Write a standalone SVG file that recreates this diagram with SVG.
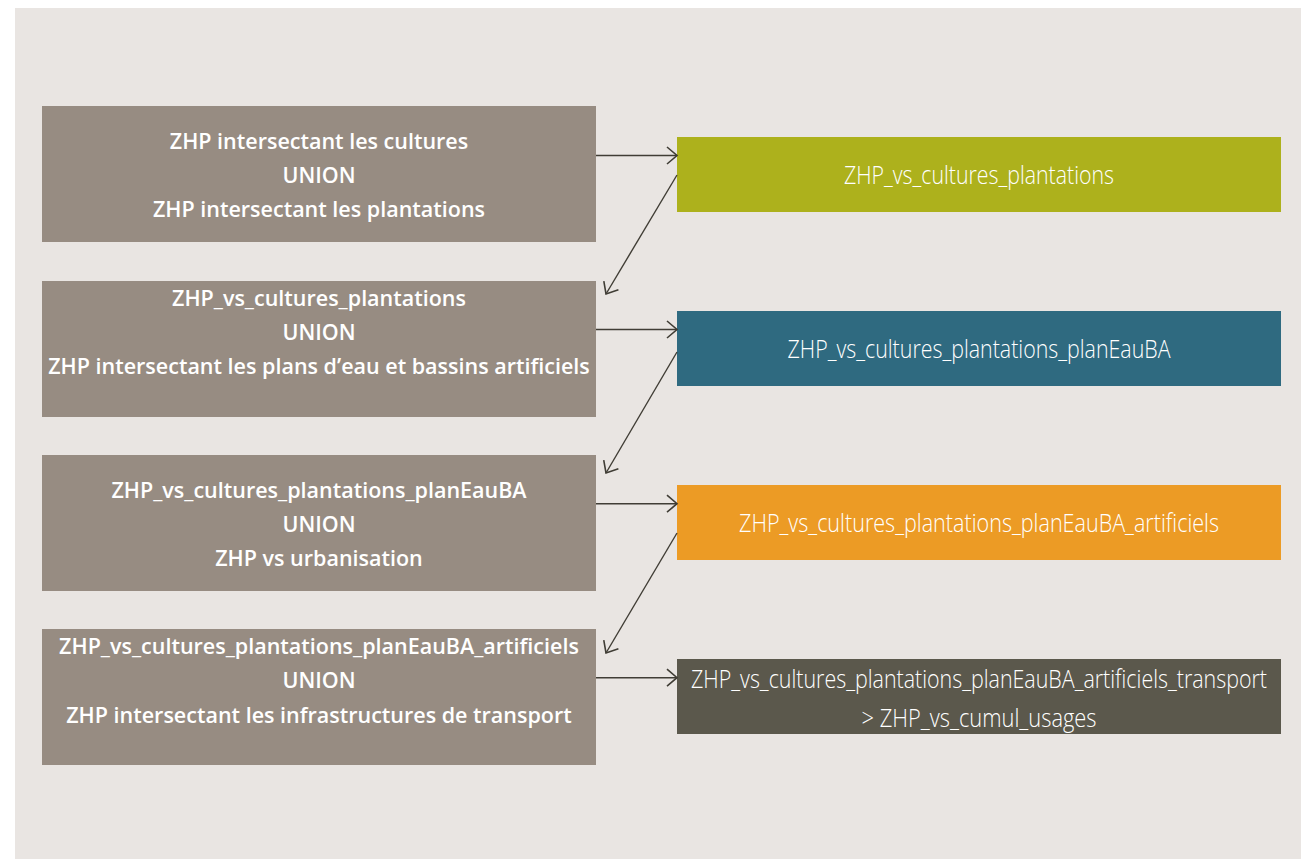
<svg xmlns="http://www.w3.org/2000/svg" width="1308" height="859" viewBox="0 0 1308 859">
<defs>
<style>
.lbox{fill:#978C82}
.lt{font-family:"Open Sans","Liberation Sans",sans-serif;font-weight:600;font-size:21.5px;fill:#ffffff;text-anchor:middle}
.rt{font-family:"Open Sans","Liberation Sans",sans-serif;font-weight:300;font-size:25px;fill:#ffffff;text-anchor:middle}
.conn{stroke:#403d35;stroke-width:1.4;fill:none;marker-end:url(#arr)}
</style>
<marker id="arr" markerUnits="userSpaceOnUse" markerWidth="30" markerHeight="30" refX="0" refY="0" orient="auto" overflow="visible">
<path d="M-10,-8.5 L0,0 L-10,8.5" fill="none" stroke="#403d35" stroke-width="1.6"/>
</marker>
</defs>
<rect x="0" y="0" width="1308" height="859" fill="#ffffff"/>
<rect x="15" y="8" width="1286" height="851" fill="#E9E5E2"/>

<g id="node-l1">
<rect class="lbox" x="42" y="106" width="554" height="136"/>
<text class="lt" x="319" y="149">ZHP intersectant les cultures</text>
<text class="lt" x="319" y="183">UNION</text>
<text class="lt" x="319" y="217">ZHP intersectant les plantations</text>
</g>
<g id="node-l2">
<rect class="lbox" x="42" y="281" width="554" height="136"/>
<text class="lt" x="319" y="306">ZHP_vs_cultures_plantations</text>
<text class="lt" x="319" y="340">UNION</text>
<text class="lt" x="319" y="374">ZHP intersectant les plans d’eau et bassins artificiels</text>
</g>
<g id="node-l3">
<rect class="lbox" x="42" y="455" width="554" height="136"/>
<text class="lt" x="319" y="498">ZHP_vs_cultures_plantations_planEauBA</text>
<text class="lt" x="319" y="532">UNION</text>
<text class="lt" x="319" y="566">ZHP vs urbanisation</text>
</g>
<g id="node-l4">
<rect class="lbox" x="42" y="629" width="554" height="136"/>
<text class="lt" x="319" y="654">ZHP_vs_cultures_plantations_planEauBA_artificiels</text>
<text class="lt" x="319" y="688">UNION</text>
<text class="lt" x="319" y="723">ZHP intersectant les infrastructures de transport</text>
</g>

<g id="node-r1">
<rect x="677" y="137" width="604" height="75" fill="#ADB11C"/>
<text class="rt" x="979" y="184" textLength="270" lengthAdjust="spacingAndGlyphs">ZHP_vs_cultures_plantations</text>
</g>
<g id="node-r2">
<rect x="677" y="311" width="604" height="75" fill="#2F6A80"/>
<text class="rt" x="979" y="358" textLength="383" lengthAdjust="spacingAndGlyphs">ZHP_vs_cultures_plantations_planEauBA</text>
</g>
<g id="node-r3">
<rect x="677" y="485" width="604" height="75" fill="#EC9B25"/>
<text class="rt" x="979" y="532" textLength="480" lengthAdjust="spacingAndGlyphs">ZHP_vs_cultures_plantations_planEauBA_artificiels</text>
</g>
<g id="node-r4">
<rect x="677" y="659" width="604" height="75" fill="#5B584C"/>
<text class="rt" x="979" y="688" textLength="576" lengthAdjust="spacingAndGlyphs">ZHP_vs_cultures_plantations_planEauBA_artificiels_transport</text>
<text class="rt" x="979" y="727" textLength="235" lengthAdjust="spacingAndGlyphs">&gt; ZHP_vs_cumul_usages</text>
</g>

<g id="connectors">
<line class="conn" x1="596" y1="155.5" x2="677" y2="155.5"/>
<line class="conn" x1="677" y1="175" x2="606" y2="294"/>
<line class="conn" x1="596" y1="329.5" x2="677" y2="329.5"/>
<line class="conn" x1="677" y1="352" x2="606" y2="473"/>
<line class="conn" x1="596" y1="503.7" x2="677" y2="503.7"/>
<line class="conn" x1="677" y1="533" x2="606" y2="653"/>
<line class="conn" x1="596" y1="677.7" x2="677" y2="677.7"/>
</g>
</svg>
